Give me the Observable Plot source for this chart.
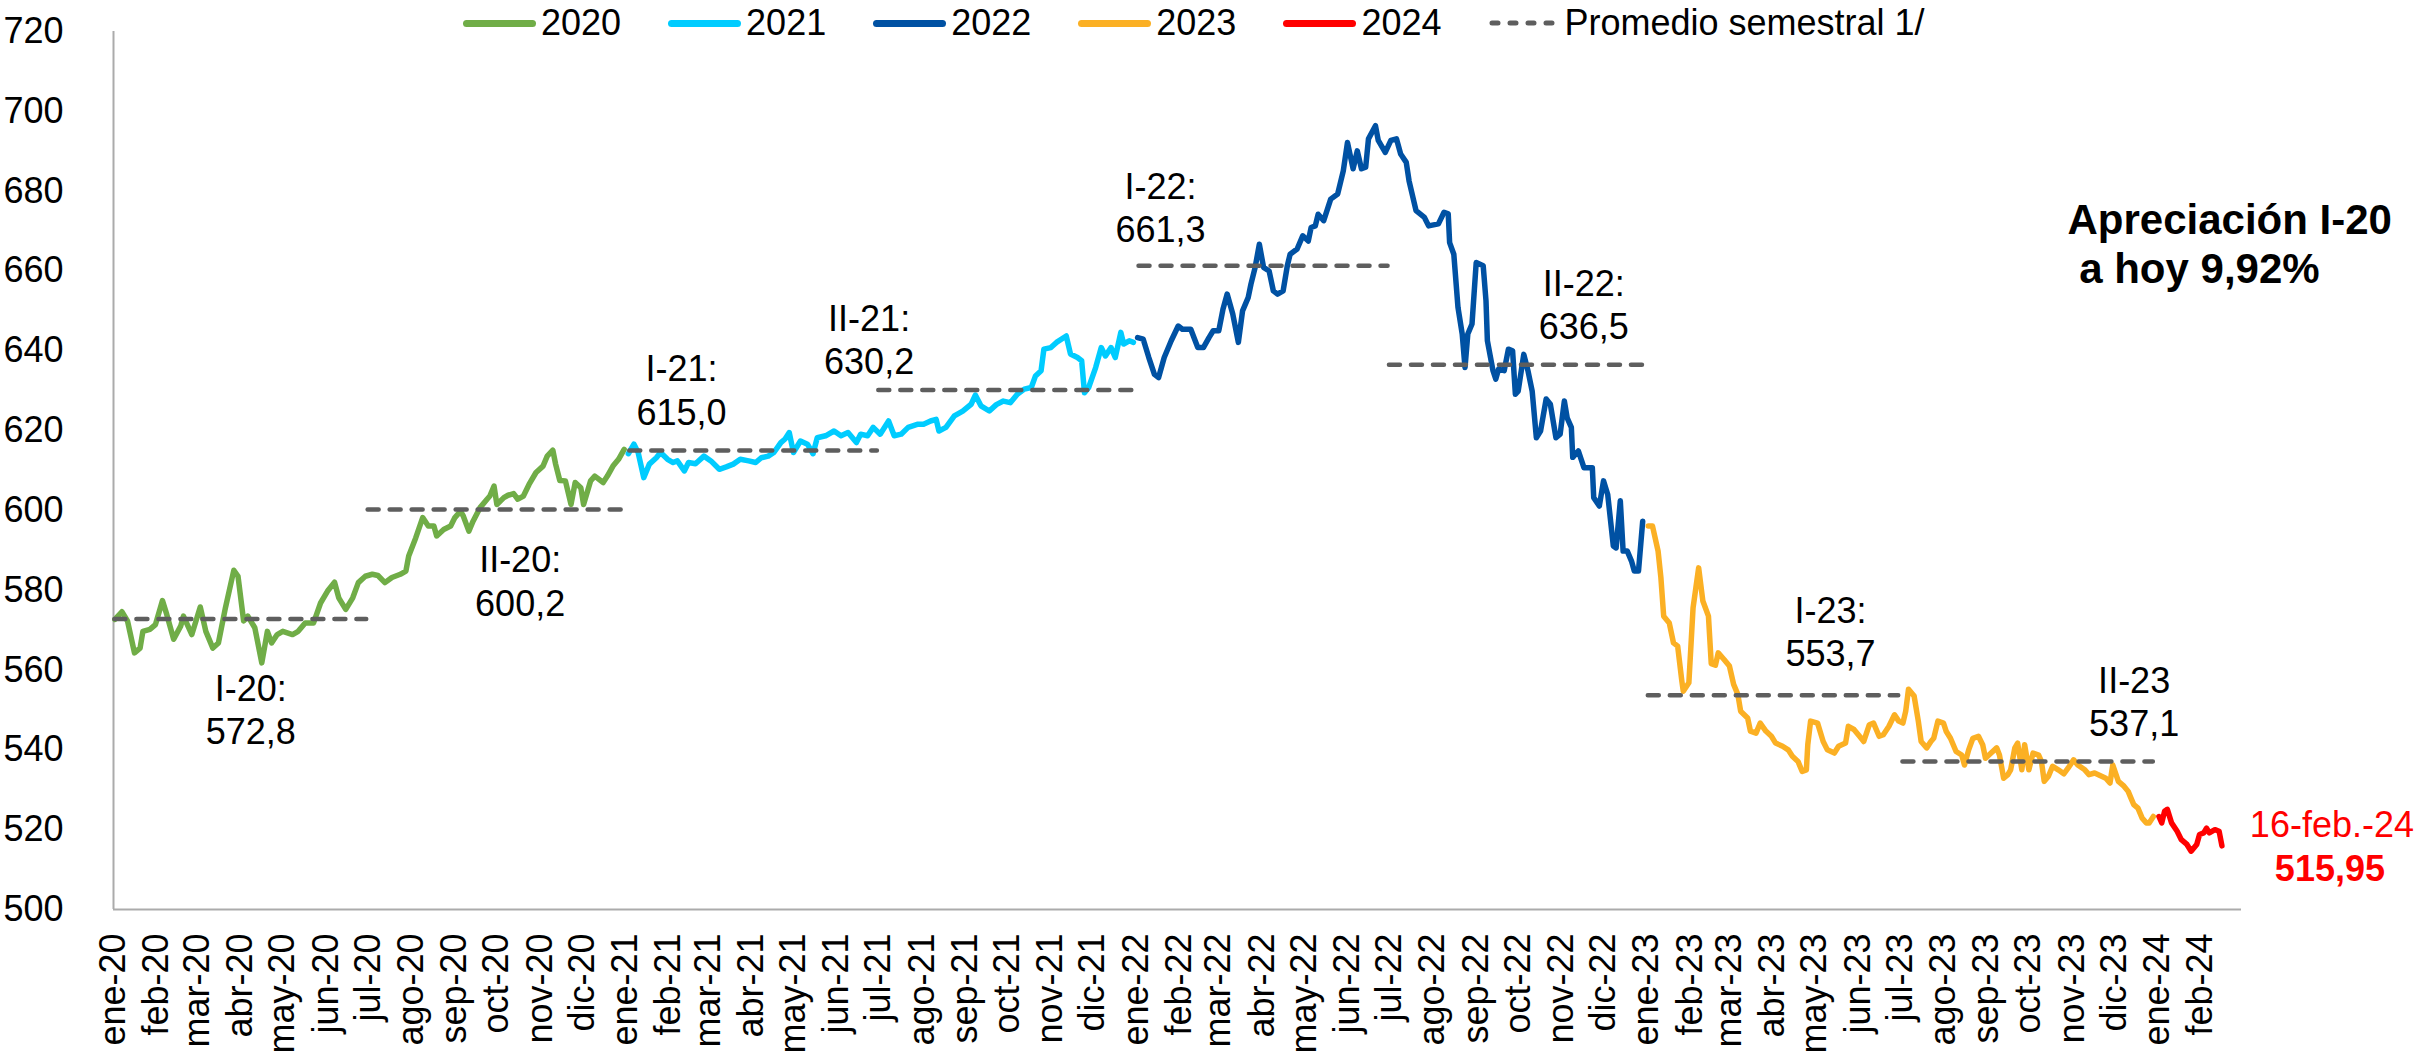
<!DOCTYPE html>
<html lang="es">
<head>
<meta charset="utf-8">
<script src="https://cdn.jsdelivr.net/npm/d3@7"></script>
<script src="https://cdn.jsdelivr.net/npm/@observablehq/plot@0.6"></script>
<style>
  body { margin: 0; background: #fff; font-family: "Liberation Sans", Arial, sans-serif; }
  #wrap { position: relative; width: 2435px; height: 1059px; }
  #legend { position: absolute; left: 463px; top: 3px; display: flex; align-items: center;
            font-size: 36px; line-height: 40px; color: #000; white-space: nowrap; }
  .item { display: flex; align-items: center; margin-right: 47px; }
  .sw { display: inline-block; width: 73px; height: 7px; border-radius: 3.5px; margin-right: 5px; }
  .swd { margin-right: 6px; }
</style>
</head>
<body>
<div id="wrap"><div id="chart"></div><div id="legend"></div></div>
<script>
// ---------- DATA ----------
const meses = ["ene","feb","mar","abr","may","jun","jul","ago","sep","oct","nov","dic"];
const anios = ["2020","2021","2022","2023","2024"];
const coloresAnio = ["#70AD47","#00CCFF","#0051A3","#FBB024","#FF0000"];
const yTicks = [500,520,540,560,580,600,620,640,660,680,700,720];

// [días desde 1-ene-2020, tipo de cambio]
const serie2020 = [[1,572.7],[6,574.6],[10,572.3],[15,564.3],[19,565.5],[21,569.7],[26,570.2],[30,571.4],[35,577.4],[38,574.0],[43,567.7],[48,571.0],[50,573.5],[56,568.9],[62,575.8],[66,569.7],[71,565.5],[75,566.8],[80,575.6],[86,585.0],[89,583.5],[93,572.3],[96,573.5],[101,570.6],[106,561.8],[110,569.7],[113,566.8],[117,568.9],[121,569.7],[128,568.9],[132,569.7],[137,571.8],[143,571.8],[148,576.8],[153,579.8],[158,582.0],[161,578.1],[166,575.2],[171,578.1],[175,581.9],[180,583.5],[185,584.0],[189,583.7],[194,581.9],[199,583.2],[205,584.0],[209,584.8],[211,588.6],[216,593.1],[221,598.2],[225,596.1],[229,596.1],[231,593.6],[236,595.2],[241,596.1],[244,598.2],[248,599.8],[250,598.6],[254,594.8],[257,597.3],[262,600.7],[267,602.8],[269,603.6],[272,606.1],[274,601.5],[279,603.2],[282,603.8],[286,604.2],[289,602.8],[293,603.6],[297,606.5],[302,609.5],[307,611.1],[310,613.6],[314,615.1],[316,611.6],[319,607.5],[323,607.4],[327,601.5],[330,607.0],[334,605.7],[336,601.5],[341,607.4],[344,608.6],[350,607.0],[353,608.6],[357,611.1],[361,612.8],[365,615.3]];
const serie2021 = [[368,614.2],[372,616.6],[375,614.5],[379,608.2],[383,611.6],[388,613.2],[391,614.5],[396,612.8],[400,612.0],[403,612.4],[408,609.9],[411,612.0],[416,611.7],[422,613.6],[427,612.4],[433,610.3],[438,610.9],[443,611.6],[448,612.8],[454,612.4],[459,612.0],[463,613.2],[468,613.6],[472,614.5],[477,617.0],[480,617.9],[483,619.5],[486,614.5],[491,617.4],[496,616.6],[500,614.2],[503,618.2],[509,618.7],[515,619.9],[520,618.7],[525,619.5],[531,617.0],[534,619.1],[539,618.7],[543,620.8],[548,619.1],[554,622.4],[558,618.7],[563,619.1],[568,620.8],[575,621.6],[579,621.6],[584,622.4],[588,622.8],[590,619.9],[595,620.8],[601,623.7],[607,624.9],[613,626.6],[616,628.9],[620,626.2],[626,624.9],[631,626.5],[636,627.4],[641,627.0],[646,629.1],[651,630.4],[656,630.8],[659,633.7],[663,635.0],[665,640.4],[670,640.8],[674,642.1],[681,643.7],[684,639.2],[689,638.3],[692,637.5],[694,629.5],[697,630.8],[702,635.8],[706,640.8],[709,638.7],[713,640.8],[716,638.3],[720,644.6],[722,641.7],[726,642.5],[729,642.1]];
const serie2022 = [[732,643.3],[736,642.9],[740,638.3],[744,634.1],[747,633.3],[751,638.3],[756,642.5],[761,646.2],[764,645.4],[770,645.4],[775,640.8],[779,640.8],[783,643.3],[786,645.0],[790,645.0],[793,650.4],[796,654.2],[800,649.2],[804,642.1],[807,650.0],[811,653.3],[813,656.7],[816,660.9],[819,666.7],[822,660.9],[826,660.0],[829,655.0],[832,654.2],[836,655.0],[839,661.3],[841,664.2],[846,665.5],[850,668.8],[854,667.5],[856,670.9],[859,671.3],[861,674.2],[865,672.6],[870,678.0],[875,679.3],[879,685.1],[882,692.2],[886,685.6],[889,690.1],[892,685.6],[895,686.0],[897,693.1],[902,696.4],[904,692.7],[909,689.7],[913,692.7],[917,693.1],[920,689.3],[924,687.2],[926,682.6],[931,675.1],[937,673.4],[940,671.3],[947,671.8],[951,674.7],[954,674.3],[955,667.1],[958,664.2],[961,650.8],[964,644.2],[966,635.8],[968,644.2],[971,646.7],[974,662.1],[979,661.3],[981,652.5],[982,642.5],[986,635.0],[988,632.9],[990,635.4],[994,635.0],[997,640.4],[1000,640.0],[1002,629.1],[1004,629.9],[1008,639.1],[1011,635.0],[1014,629.9],[1017,618.2],[1020,619.9],[1024,627.9],[1027,626.6],[1031,618.2],[1034,619.1],[1037,627.4],[1039,623.2],[1042,620.8],[1043,613.3],[1047,614.9],[1051,610.7],[1057,610.7],[1058,603.2],[1062,601.1],[1065,607.4],[1068,604.0],[1072,591.1],[1074,590.6],[1077,602.4],[1079,589.8],[1082,589.8],[1085,587.3],[1087,584.8],[1090,584.8],[1093,597.3]];
const serie2023 = [[1097,596.1],[1100,596.1],[1104,589.8],[1106,583.2],[1108,573.5],[1112,571.8],[1115,566.8],[1118,566.0],[1121,557.2],[1122,554.7],[1126,556.8],[1129,575.6],[1131,580.6],[1133,585.6],[1136,577.3],[1140,573.5],[1142,561.6],[1145,561.2],[1147,564.3],[1151,562.7],[1155,561.0],[1158,556.4],[1161,553.9],[1163,549.7],[1168,548.0],[1170,544.7],[1174,544.2],[1177,546.7],[1181,544.7],[1185,543.4],[1188,541.7],[1193,540.9],[1197,540.0],[1200,538.4],[1204,537.1],[1207,534.6],[1210,535.0],[1211,541.3],[1213,547.2],[1218,546.7],[1222,542.1],[1225,540.0],[1230,539.2],[1233,540.9],[1238,541.7],[1240,545.9],[1244,545.1],[1248,543.4],[1251,542.1],[1255,546.3],[1258,546.7],[1262,543.4],[1265,543.8],[1269,545.9],[1273,548.8],[1276,547.2],[1279,546.7],[1281,549.7],[1283,555.2],[1287,553.5],[1290,547.2],[1292,542.1],[1296,540.5],[1299,542.1],[1301,542.9],[1304,547.2],[1308,546.7],[1310,544.6],[1313,542.9],[1317,539.6],[1321,538.7],[1323,536.2],[1326,540.0],[1329,542.9],[1333,543.4],[1336,541.3],[1338,537.9],[1342,539.2],[1346,540.5],[1348,538.7],[1351,532.9],[1354,533.8],[1356,535.0],[1359,540.5],[1361,541.7],[1364,535.0],[1366,541.3],[1369,535.0],[1372,539.2],[1376,538.7],[1378,537.1],[1380,532.1],[1383,533.4],[1386,535.9],[1390,535.0],[1394,534.0],[1397,535.4],[1401,537.5],[1404,536.2],[1409,535.0],[1412,533.8],[1416,534.2],[1421,533.4],[1424,532.9],[1427,531.7],[1429,536.2],[1433,532.1],[1437,530.9],[1440,529.6],[1442,527.9],[1444,526.3],[1447,525.4],[1450,522.9],[1453,521.7],[1455,521.7],[1458,523.3]];
const serie2024 = [[1462,523.3],[1464,521.7],[1466,524.6],[1468,525.1],[1471,521.7],[1475,519.6],[1478,517.5],[1482,516.3],[1485,514.6],[1489,516.3],[1491,518.8],[1494,519.2],[1496,520.4],[1498,519.2],[1502,520.0],[1505,519.6],[1507,515.95]];

// Promedios semestrales
const semNombres = ["I-20:","II-20:","I-21:","II-21:","I-22:","II-22:","I-23:","II-23"];
const semPromedios = [572.8,600.2,615.0,630.2,661.3,636.5,553.7,537.1];
const semInicio = ["2020-01-02","2020-07-01","2021-01-04","2021-07-01","2022-01-03","2022-07-01","2023-01-02","2023-07-03"];
const semFin = ["2020-06-30","2020-12-31","2021-06-30","2021-12-30","2022-06-30","2022-12-30","2023-06-30","2023-12-29"];

const ultimaFechaTexto = "16-feb.-24";
const apreciacionTexto = ["Apreciación I-20", "\u00a0a hoy 9,92%"];
const legendaPromedio = "Promedio semestral 1/";

// ---------- BUILD ----------
const base = Date.UTC(2020, 0, 1);
const fecha = d => new Date(base + d * 864e5);
const series = [serie2020, serie2021, serie2022, serie2023, serie2024];
const tabla = series.flatMap((s, i) => s.map(([d, v]) => ({fecha: fecha(d), valor: v, anio: anios[i]})));
const fmt = (v, n) => v.toFixed(n).replace(".", ",");

const semestres = semNombres.map((n, i) => {
  const ini = new Date(semInicio[i]), fin = new Date(semFin[i]);
  return {nombre: n, promedio: semPromedios[i], inicio: ini, fin: fin,
          medio: new Date((+ini + +fin) / 2), texto: n + "\n" + fmt(semPromedios[i], 1)};
});
// label offsets (px) from semester midpoint / average level
const offs = {"I-20:":[10,125],"II-20:":[24,106],"I-21:":[-72,-26],"II-21:":[-137,-16],
              "I-22:":[-103,-24],"II-22:":[67,-26],"I-23:":[57,-29],"II-23":[106,-25]};

const xDomain = [new Date(Date.UTC(2020,0,1)), new Date(Date.UTC(2024,2,1))];
const monthTicks = d3.utcMonth.range(xDomain[0], xDomain[1]);
const ultimo = tabla[tabla.length - 1];

const chart = Plot.plot({
  width: 2435, height: 1059,
  marginTop: 31, marginBottom: 150, marginLeft: 113, marginRight: 194,
  style: {fontFamily: "'Liberation Sans', Arial, sans-serif", fontSize: "36px", color: "#000", background: "#fff"},
  x: {type: "utc", domain: xDomain, label: null},
  y: {domain: [500, 720], label: null},
  color: {domain: anios, range: coloresAnio},
  marks: [
    Plot.axisY({ticks: yTicks, tickSize: 0, tickPadding: 50, label: null, fontSize: 36}),
    Plot.axisX({ticks: monthTicks, tickFormat: d => meses[d.getUTCMonth()] + "-" + String(d.getUTCFullYear()).slice(2),
                tickRotate: -90, tickSize: 0, tickPadding: 24, label: null, fontSize: 36}),
    Plot.ruleX([xDomain[0]], {stroke: "#ABABAB", strokeWidth: 2}),
    Plot.ruleY([500], {stroke: "#ABABAB", strokeWidth: 2}),
    Plot.line(tabla, {x: "fecha", y: "valor", z: "anio", stroke: "anio", strokeWidth: 5.5,
                      strokeLinejoin: "round", strokeLinecap: "round"}),
    Plot.ruleY(semestres, {y: "promedio", x1: "inicio", x2: "fin", stroke: "#5E5E5E", strokeWidth: 4.5,
                           strokeDasharray: "11,11", strokeLinecap: "round"}),
    ...semestres.map(s => Plot.text([s], {x: "medio", y: "promedio", text: "texto",
        dx: offs[s.nombre][0], dy: offs[s.nombre][1], lineAnchor: "bottom", lineHeight: 1.2,
        fontSize: 36, fill: "#000"})),
    Plot.text([ultimo], {x: "fecha", y: "valor", text: () => ultimaFechaTexto, dx: 110, dy: -9,
                         lineAnchor: "bottom", fontSize: 36, fill: "#FF0000"}),
    Plot.text([ultimo], {x: "fecha", y: "valor", text: d => fmt(d.valor, 2), dx: 108, dy: 35,
                         lineAnchor: "bottom", fontSize: 36, fontWeight: "bold", fill: "#FF0000"}),
    Plot.text([apreciacionTexto.join("\n")], {frameAnchor: "top-right", text: d => d, dx: -174, dy: 251,
                         textAnchor: "start", lineAnchor: "bottom", lineHeight: 1.15,
                         fontSize: 42, fontWeight: "bold", fill: "#000"})
  ]
});
document.getElementById("chart").appendChild(chart);

// ---------- LEGEND ----------
const leg = document.getElementById("legend");
anios.forEach((a, i) => {
  const it = document.createElement("div");
  it.className = "item";
  it.innerHTML = `<span class="sw" style="background:${coloresAnio[i]}"></span><span>${a}</span>`;
  leg.appendChild(it);
});
const itd = document.createElement("div");
itd.className = "item";
itd.innerHTML = `<svg class="swd" width="70" height="8"><line x1="4" x2="66" y1="4" y2="4" stroke="#5E5E5E" stroke-width="5" stroke-dasharray="6,12" stroke-linecap="round"/></svg><span>${legendaPromedio}</span>`;
leg.appendChild(itd);
</script>
</body>
</html>
